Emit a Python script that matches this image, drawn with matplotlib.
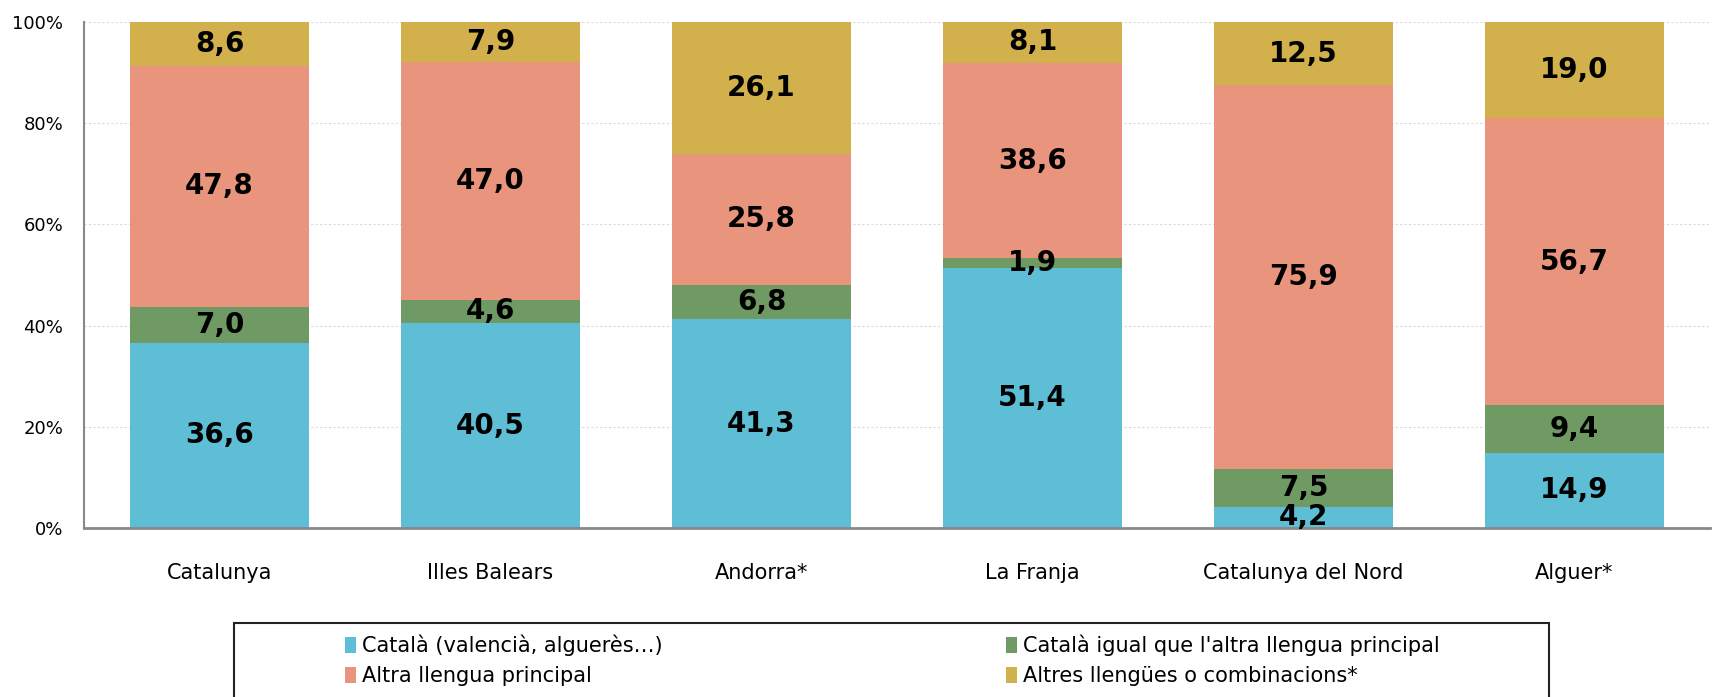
import numpy as np
import matplotlib
matplotlib.use('Agg')
import matplotlib.pyplot as plt
from matplotlib.patches import Rectangle
from matplotlib.ticker import FuncFormatter

# Data
regions = ['Catalunya', 'Illes Balears', 'Andorra*', 'La Franja',
           'Catalunya del Nord', 'Alguer*']
catala = [36.6, 40.5, 41.3, 51.4, 4.2, 14.9]
igual = [7.0, 4.6, 6.8, 1.9, 7.5, 9.4]
altra = [47.8, 47.0, 25.8, 38.6, 75.9, 56.7]
altres = [8.6, 7.9, 26.1, 8.1, 12.5, 19.0]

series_names = ['Català (valencià, alguerès…)', "Català igual que l'altra llengua principal",
                'Altra llengua principal', 'Altres llengües o combinacions*']
colors = ['#5EBED6', '#6F9A64', '#E9957D', '#D2B04C']

plt.rcParams['font.family'] = ['DejaVu Sans']

fig = plt.figure(figsize=(17.2, 6.97), dpi=100)
ax = fig.add_axes([84 / 1720, 169 / 697, 1626 / 1720, 506 / 697])

data = np.array([catala, igual, altra, altres])
totals = data.sum(axis=0)
pct = data / totals * 100

x = np.arange(len(regions))
bottom = np.zeros(len(regions))
handles = []
for i in range(len(series_names)):
    bars = ax.bar(x, pct[i], 0.66, bottom=bottom, color=colors[i], zorder=2)
    handles.append(bars)
    for j in range(len(regions)):
        lab = ('%.1f' % data[i][j]).replace('.', ',')
        ax.text(x[j], bottom[j] + pct[i][j] / 2, lab, ha='center', va='center',
                fontsize=20, fontweight='bold', color='black', zorder=3)
    bottom += pct[i]

ax.set_xlim(-0.5, len(regions) - 0.5)
ax.set_ylim(0, 100)
ax.set_yticks(np.arange(0, 101, 20))
ax.yaxis.set_major_formatter(FuncFormatter(lambda v, p: '%d%%' % v))
ax.set_xticks(x)
ax.set_xticklabels(regions)
ax.tick_params(axis='y', length=0, labelsize=13, pad=15)
ax.tick_params(axis='x', length=0, labelsize=15, pad=25)
ax.grid(axis='y', color='#d9d9d9', linestyle=(0, (2, 2)), linewidth=0.8, zorder=0)
for s in ['top', 'right']:
    ax.spines[s].set_visible(False)
ax.spines['left'].set_color('#888888')
ax.spines['left'].set_linewidth(1.5)
ax.spines['bottom'].set_color('#888888')
ax.spines['bottom'].set_linewidth(2)

# legend box (bottom edge runs off the picture)
fig.patches.append(Rectangle((234 / 1720, -0.02), 1315 / 1720, 0.02 + 74 / 697,
                             transform=fig.transFigure, fill=False,
                             edgecolor='#222222', linewidth=1.5))
order = [0, 2, 1, 3]
fig.legend([handles[k] for k in order], [series_names[k] for k in order],
           ncol=2, frameon=False, fontsize=15,
           loc='upper left', bbox_to_anchor=(337 / 1720, 1 - 626 / 697),
           handlelength=0.5, handleheight=0.8, handletextpad=0.3,
           columnspacing=16.5, labelspacing=0.5, borderaxespad=0)

fig.savefig('out.png', dpi=100)
